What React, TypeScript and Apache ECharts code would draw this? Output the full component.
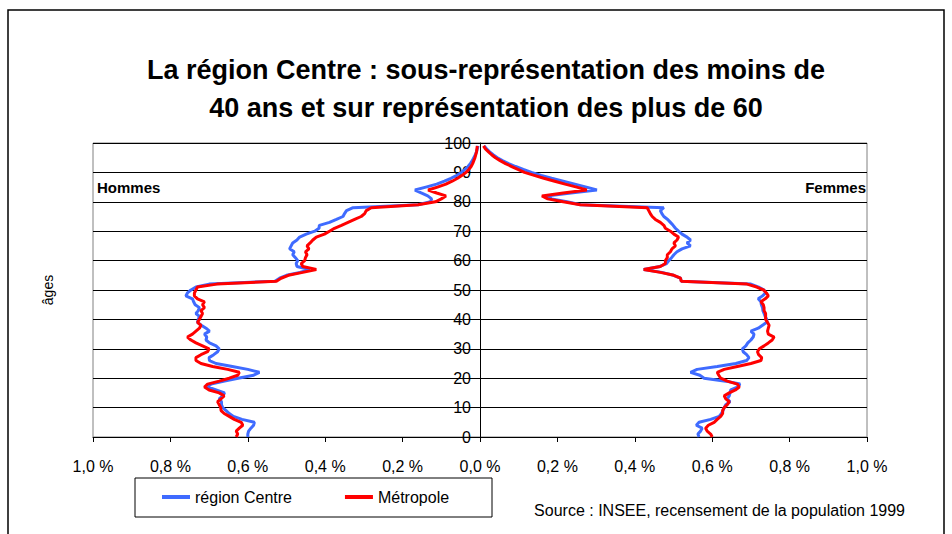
import React, { useEffect, useRef } from "react";
import * as echarts from "echarts";

const TITLE =
  "La région Centre : sous-représentation des moins de\n40 ans et sur représentation des plus de 60";
const SOURCE = "Source : INSEE, recensement de la population 1999";
const SERIES_NAMES = ["région Centre", "Métropole"];

// Ages 0..99
const AGES: number[] = [
  0, 1, 2, 3, 4, 5, 6, 7, 8, 9, 10, 11, 12, 13, 14, 15, 16, 17, 18, 19,
  20, 21, 22, 23, 24, 25, 26, 27, 28, 29, 30, 31, 32, 33, 34, 35, 36, 37, 38, 39,
  40, 41, 42, 43, 44, 45, 46, 47, 48, 49, 50, 51, 52, 53, 54, 55, 56, 57, 58, 59,
  60, 61, 62, 63, 64, 65, 66, 67, 68, 69, 70, 71, 72, 73, 74, 75, 76, 77, 78, 79,
  80, 81, 82, 83, 84, 85, 86, 87, 88, 89, 90, 91, 92, 93, 94, 95, 96, 97, 98, 99,
];

// Share of total population (%), men — région Centre
const MEN_CENTRE: number[] = [
  0.600, 0.600, 0.598, 0.592, 0.585, 0.583, 0.615, 0.637, 0.648, 0.656,
  0.665, 0.668, 0.668, 0.674, 0.665, 0.660, 0.682, 0.704, 0.695, 0.660,
  0.625, 0.585, 0.570, 0.600, 0.640, 0.682, 0.699, 0.700, 0.688, 0.678,
  0.674, 0.682, 0.699, 0.708, 0.706, 0.712, 0.699, 0.708, 0.720, 0.730,
  0.728, 0.725, 0.734, 0.728, 0.725, 0.736, 0.740, 0.743, 0.760, 0.756,
  0.747, 0.734, 0.700, 0.530, 0.518, 0.500, 0.465, 0.440, 0.473, 0.475,
  0.471, 0.477, 0.484, 0.480, 0.492, 0.488, 0.484, 0.473, 0.466, 0.449,
  0.427, 0.416, 0.415, 0.389, 0.371, 0.354, 0.350, 0.345, 0.328, 0.160,
  0.128, 0.125, 0.135, 0.152, 0.168, 0.140, 0.112, 0.092, 0.075, 0.060,
  0.048, 0.039, 0.031, 0.025, 0.020, 0.016, 0.012, 0.009, 0.007, 0.005,
];

// Men — Métropole
const MEN_METRO: number[] = [
  0.630, 0.626, 0.630, 0.622, 0.613, 0.617, 0.635, 0.648, 0.661, 0.669,
  0.670, 0.674, 0.678, 0.669, 0.661, 0.674, 0.700, 0.712, 0.704, 0.674,
  0.648, 0.626, 0.622, 0.652, 0.691, 0.721, 0.734, 0.734, 0.721, 0.704,
  0.700, 0.717, 0.734, 0.747, 0.756, 0.743, 0.734, 0.725, 0.721, 0.730,
  0.725, 0.721, 0.717, 0.721, 0.712, 0.717, 0.712, 0.730, 0.738, 0.738,
  0.734, 0.730, 0.680, 0.526, 0.514, 0.495, 0.458, 0.423, 0.458, 0.462,
  0.453, 0.451, 0.447, 0.451, 0.442, 0.447, 0.439, 0.432, 0.423, 0.402,
  0.389, 0.376, 0.358, 0.341, 0.324, 0.307, 0.298, 0.294, 0.281, 0.160,
  0.115, 0.100, 0.088, 0.112, 0.134, 0.110, 0.088, 0.072, 0.058, 0.046,
  0.036, 0.029, 0.023, 0.019, 0.016, 0.013, 0.011, 0.009, 0.008, 0.007,
];

// Women — région Centre
const WOMEN_CENTRE: number[] = [
  0.566, 0.563, 0.570, 0.574, 0.559, 0.566, 0.596, 0.618, 0.624, 0.628,
  0.631, 0.635, 0.646, 0.639, 0.644, 0.646, 0.648, 0.665, 0.672, 0.635,
  0.579, 0.568, 0.544, 0.561, 0.613, 0.661, 0.689, 0.695, 0.689, 0.680,
  0.678, 0.687, 0.692, 0.700, 0.706, 0.708, 0.700, 0.719, 0.730, 0.741,
  0.741, 0.737, 0.734, 0.731, 0.730, 0.727, 0.726, 0.719, 0.730, 0.738,
  0.734, 0.720, 0.700, 0.520, 0.518, 0.500, 0.470, 0.423, 0.465, 0.482,
  0.488, 0.495, 0.501, 0.509, 0.522, 0.544, 0.535, 0.544, 0.535, 0.522,
  0.513, 0.505, 0.499, 0.492, 0.485, 0.475, 0.470, 0.466, 0.475, 0.260,
  0.225, 0.185, 0.172, 0.235, 0.302, 0.275, 0.245, 0.215, 0.185, 0.158,
  0.133, 0.112, 0.092, 0.074, 0.058, 0.045, 0.034, 0.025, 0.017, 0.011,
];

// Women — Métropole
const WOMEN_METRO: number[] = [
  0.600, 0.596, 0.587, 0.583, 0.590, 0.605, 0.613, 0.622, 0.627, 0.627,
  0.631, 0.639, 0.644, 0.635, 0.631, 0.644, 0.660, 0.670, 0.665, 0.639,
  0.622, 0.617, 0.613, 0.631, 0.665, 0.700, 0.726, 0.728, 0.720, 0.717,
  0.722, 0.734, 0.745, 0.755, 0.760, 0.745, 0.743, 0.745, 0.747, 0.743,
  0.738, 0.738, 0.738, 0.734, 0.734, 0.732, 0.726, 0.737, 0.745, 0.740,
  0.733, 0.715, 0.690, 0.520, 0.518, 0.501, 0.466, 0.423, 0.466, 0.479,
  0.479, 0.484, 0.484, 0.492, 0.496, 0.505, 0.501, 0.509, 0.513, 0.501,
  0.492, 0.479, 0.475, 0.466, 0.453, 0.445, 0.440, 0.436, 0.432, 0.259,
  0.215, 0.175, 0.160, 0.215, 0.276, 0.250, 0.220, 0.193, 0.165, 0.140,
  0.115, 0.098, 0.082, 0.066, 0.052, 0.040, 0.030, 0.022, 0.014, 0.009,
];

const BLUE = "#3f6bff";
const RED = "#ff0000";
const FONT = "'Liberation Sans', Arial, Helvetica, sans-serif";

const GRID_LEFT = 93;
const GRID_RIGHT = 85;
const CHART_W = 952;

export default function App() {
  const ref = useRef<HTMLDivElement>(null);

  useEffect(() => {
    if (!ref.current) return;
    const chart = echarts.init(ref.current, undefined, { renderer: "svg" });

    const line = (name: string, color: string, vals: number[], sign: number, z: number) => ({
      name,
      type: "line",
      symbol: "none",
      z,
      lineStyle: { color, width: 3 },
      itemStyle: { color },
      data: AGES.map((a, i) => [sign * vals[i], a]),
    });

    const halfPlot = (CHART_W - GRID_LEFT - GRID_RIGHT) / 2;

    chart.setOption({
      animation: false,
      backgroundColor: "#ffffff",
      textStyle: { fontFamily: FONT },
      title: {
        text: TITLE,
        left: 481,
        top: 46,
        textAlign: "center",
        textStyle: {
          fontFamily: FONT,
          fontSize: 27,
          fontWeight: "bold",
          color: "#000",
          lineHeight: 38,
        },
      },
      grid: {
        left: GRID_LEFT,
        right: GRID_RIGHT,
        top: 143,
        bottom: 97,
        show: true,
        borderColor: "#808080",
        borderWidth: 1,
        backgroundColor: "transparent",
      },
      legend: {
        data: SERIES_NAMES,
        left: 162,
        top: 489,
        padding: 0,
        icon: "rect",
        itemWidth: 28,
        itemHeight: 4,
        itemGap: 53,
        textStyle: { fontFamily: FONT, fontSize: 16, color: "#000" },
      },
      xAxis: {
        type: "value",
        min: -1,
        max: 1,
        interval: 0.2,
        axisLine: { show: true, onZero: false, lineStyle: { color: "#000", width: 1 } },
        axisTick: { show: true, length: 5, lineStyle: { color: "#000" } },
        axisLabel: {
          margin: 21,
          fontFamily: FONT,
          fontSize: 16,
          color: "#000",
          formatter: (v: number) => Math.abs(v).toFixed(1).replace(".", ",") + " %",
        },
        splitLine: { show: false },
      },
      yAxis: {
        type: "value",
        position: "left",
        offset: -halfPlot,
        min: 0,
        max: 100,
        interval: 10,
        axisLine: { show: true, onZero: false, lineStyle: { color: "#000", width: 1 } },
        axisTick: { show: true, length: 5, lineStyle: { color: "#000" } },
        axisLabel: { margin: 9, fontFamily: FONT, fontSize: 16, color: "#000" },
        splitLine: { show: true, lineStyle: { color: "#000", width: 1 } },
      },
      graphic: [
        {
          type: "rect",
          shape: { x: 8, y: 10, width: 936, height: 540 },
          style: { fill: "none", stroke: "#000", lineWidth: 1.5 },
          silent: true,
        },
        {
          type: "rect",
          shape: { x: 135, y: 478, width: 357, height: 39 },
          style: { fill: "none", stroke: "#000", lineWidth: 1 },
          silent: true,
        },
        {
          type: "text",
          x: 97,
          y: 187,
          style: { text: "Hommes", fontFamily: FONT, fontSize: 15, fontWeight: "bold", fill: "#000", verticalAlign: "middle" },
        },
        {
          type: "text",
          x: 866,
          y: 187,
          style: { text: "Femmes", fontFamily: FONT, fontSize: 15, fontWeight: "bold", fill: "#000", align: "right", verticalAlign: "middle" },
        },
        {
          type: "text",
          x: 48,
          y: 290,
          rotation: Math.PI / 2,
          style: { text: "âges", fontFamily: FONT, fontSize: 14, fill: "#000", align: "center", verticalAlign: "middle" },
        },
        {
          type: "text",
          x: 905,
          y: 510,
          style: { text: SOURCE, fontFamily: FONT, fontSize: 16, fill: "#000", align: "right", verticalAlign: "middle" },
        },
      ],
      series: [
        line(SERIES_NAMES[0], BLUE, MEN_CENTRE, -1, 2),
        line(SERIES_NAMES[0], BLUE, WOMEN_CENTRE, 1, 2),
        line(SERIES_NAMES[1], RED, MEN_METRO, -1, 3),
        line(SERIES_NAMES[1], RED, WOMEN_METRO, 1, 3),
      ],
    });

    return () => chart.dispose();
  }, []);

  return (
    <div
      ref={ref}
      style={{ position: "fixed", left: 0, top: 0, width: 952, height: 534, background: "#fff" }}
    />
  );
}
